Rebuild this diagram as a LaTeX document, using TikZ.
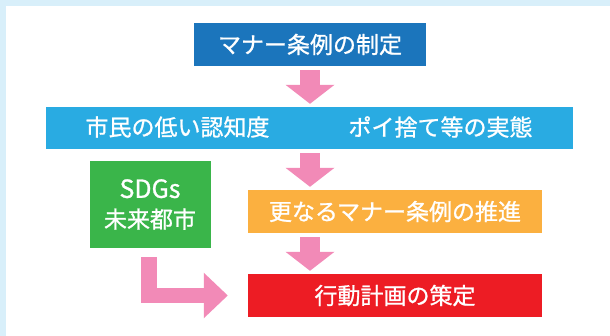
\documentclass[tikz,border=0pt]{standalone}
\usepackage{fontspec}
\newfontfamily\jpfont[FakeBold=1]{Noto Sans CJK JP}
\usetikzlibrary{arrows.meta}
\definecolor{bgblue}{HTML}{D8EFFA}
\definecolor{boxblue}{HTML}{1B75BC}
\definecolor{boxcyan}{HTML}{29ABE2}
\definecolor{boxgreen}{HTML}{3AB54A}
\definecolor{boxorange}{HTML}{FBB040}
\definecolor{boxred}{HTML}{ED1C24}
\definecolor{arrowpink}{HTML}{F28AB7}
\begin{document}
\begin{tikzpicture}[x=1pt,y=-1pt,
  box/.style={inner sep=0pt, text=white, font=\jpfont\fontsize{23}{30}\selectfont, align=center},
  lbl/.style={inner sep=0pt, text=white, font=\jpfont\fontsize{23}{30}\selectfont},
  blockarrow/.style={draw=arrowpink, line width=20pt, -{Triangle[width=48pt,length=19pt]}},
  larrow/.style={draw=arrowpink, line width=15.5pt, line join=miter, -{Triangle[width=44pt,length=24pt]}}]
\useasboundingbox (0,0) rectangle (610,336);
\fill[bgblue] (0,0) rectangle (610,336);
\fill[white] (6,6) rectangle (610,336);

\node[box, fill=boxblue, minimum width=232pt, minimum height=43pt] (top) at (310,44.5) {マナー条例の制定};
\node[box, fill=boxcyan, minimum width=527pt, minimum height=42pt] (cyan) at (309.5,128) {};
\node[lbl] (t1) at (177.5,127) {市民の低い認知度};
\node[lbl] (t2) at (440.5,127) {ポイ捨て等の実態};
\node[box, fill=boxgreen, minimum width=121pt, minimum height=87pt] (green) at (150,204.5) {{\fontsize{25}{30}\selectfont SDGs}\\未来都市};
\node[box, fill=boxorange, minimum width=294pt, minimum height=43pt] (orange) at (395,211.5) {更なるマナー条例の推進};
\node[box, fill=boxred, minimum width=294pt, minimum height=43pt] (red) at (395,295.5) {行動計画の策定};

\draw[blockarrow] ([yshift=-4pt]top.south) -- ([yshift=3pt]top.south |- cyan.north);
\draw[blockarrow] ([yshift=-4pt]top.south |- cyan.south) -- ([yshift=3pt]top.south |- orange.north);
\draw[blockarrow] ([yshift=-4pt]top.south |- orange.south) -- ([yshift=3pt]top.south |- red.north);
\draw[larrow] ([xshift=-1pt,yshift=-9pt]green.south) |- ([xshift=-20pt]red.west);
\end{tikzpicture}
\end{document}
